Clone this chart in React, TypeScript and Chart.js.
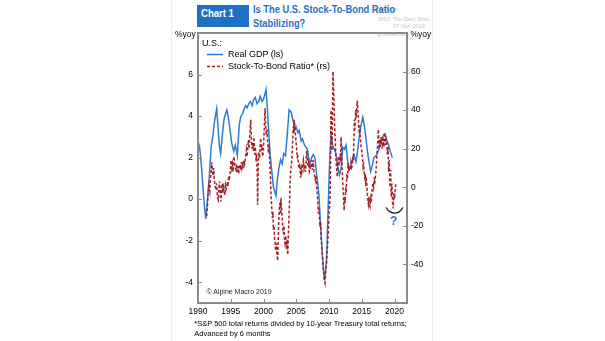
import React, { useEffect, useRef } from "react";
import { Chart, registerables } from "chart.js";

Chart.register(...registerables);

// ---------------- data ----------------
const gdpYears = [
  1990.0, 1990.25, 1990.5, 1990.75, 1991.0, 1991.18, 1991.5, 1991.75, 1992.0, 1992.25,
  1992.5, 1992.85, 1993.05, 1993.25, 1993.45, 1993.75, 1994.0, 1994.4, 1994.6, 1994.9,
  1995.15, 1995.45, 1995.7, 1996.0, 1996.3, 1996.55, 1996.8, 1997.0, 1997.25, 1997.5,
  1997.75, 1998.0, 1998.25, 1998.5, 1998.75, 1999.0, 1999.25, 1999.5, 1999.75, 2000.0,
  2000.38, 2000.6, 2000.8, 2001.0, 2001.25, 2001.5, 2001.9, 2002.1, 2002.35, 2002.6,
  2002.85, 2003.1, 2003.35, 2003.6, 2003.9, 2004.2, 2004.5, 2004.75, 2004.95, 2005.25,
  2005.45, 2005.75, 2005.95, 2006.25, 2006.5, 2006.75, 2007.0, 2007.35, 2007.6, 2007.85,
  2008.0, 2008.2, 2008.45, 2008.7, 2009.0, 2009.3, 2009.6, 2009.85, 2010.1, 2010.3,
  2010.55, 2010.8, 2011.05, 2011.3, 2011.6, 2011.85, 2012.1, 2012.35, 2012.6, 2012.95,
  2013.15, 2013.4, 2013.6, 2013.85, 2014.1, 2014.35, 2014.6, 2014.85, 2015.15, 2015.4,
  2015.65, 2015.9, 2016.1, 2016.35, 2016.6, 2016.85, 2017.1, 2017.35, 2017.6, 2017.85,
  2018.1, 2018.35, 2018.55, 2018.85, 2019.1, 2019.35, 2019.66
];
const gdpValues = [
  2.8, 2.5, 1.7, 0.6, -0.4, -0.95, 0.2, 1.2, 2.5, 3.0,
  3.7, 4.35, 3.5, 2.6, 2.2, 3.2, 3.9, 4.3, 4.0, 3.3,
  2.7, 2.3, 2.6, 2.1, 3.6, 4.0, 4.1, 4.3, 4.5, 4.4,
  4.6, 4.7, 4.5, 4.8, 4.9, 4.6, 4.7, 4.95, 4.7, 4.8,
  5.28, 4.3, 3.2, 2.2, 1.4, 0.6, 0.16, 0.9, 1.5, 1.9,
  1.7, 2.2, 2.1, 3.0, 4.3, 4.2, 3.8, 3.35, 3.5, 3.2,
  3.3, 2.8, 2.9, 2.6, 2.5, 2.35, 1.66, 2.0, 2.15, 2.0,
  1.5, 0.95, 0.2, -1.2, -2.8, -3.9, -3.0, -0.6, 1.9, 3.1,
  2.6, 2.4, 2.2, 1.6, 1.17, 1.5, 2.5, 2.4, 2.6, 1.5,
  1.5, 1.7, 1.9, 2.1, 1.8, 2.3, 3.0, 3.5, 3.95, 3.5,
  2.9, 2.2, 1.8, 1.33, 1.6, 2.0, 2.06, 2.2, 2.4, 2.7,
  2.9, 3.1, 3.15, 2.8, 2.6, 2.3, 2.0
];

const ratioYears = [
  1991.33, 1991.45, 1991.55, 1991.65, 1991.8, 1991.9, 1992.0, 1992.09, 1992.2, 1992.3,
  1992.4, 1992.49, 1992.6, 1992.75, 1992.85, 1992.95, 1993.1, 1993.2, 1993.3, 1993.4,
  1993.5, 1993.6, 1993.7, 1993.8, 1993.9, 1994.0, 1994.1, 1994.2, 1994.3, 1994.4,
  1994.5, 1994.6, 1994.7, 1994.8, 1994.9, 1995.04, 1995.15, 1995.25, 1995.35, 1995.5,
  1995.6, 1995.7, 1995.8, 1995.9, 1996.0, 1996.1, 1996.2, 1996.3, 1996.4, 1996.5,
  1996.6, 1996.7, 1996.8, 1996.9, 1997.0, 1997.1, 1997.2, 1997.3, 1997.4, 1997.5,
  1997.6, 1997.7, 1997.8, 1997.9, 1998.05, 1998.15, 1998.25, 1998.35, 1998.45, 1998.55,
  1998.65, 1998.75, 1998.85, 1998.96, 1999.05, 1999.1, 1999.2, 1999.3, 1999.4, 1999.5,
  1999.57, 1999.65, 1999.75, 1999.85, 1999.97, 2000.08, 2000.16, 2000.23, 2000.32, 2000.42,
  2000.52, 2000.64, 2000.75, 2000.85, 2000.95, 2001.05, 2001.15, 2001.25, 2001.35, 2001.45,
  2001.5, 2001.6, 2001.7, 2001.76, 2001.85, 2001.95, 2002.05, 2002.17, 2002.25, 2002.32,
  2002.4, 2002.5, 2002.6, 2002.67, 2002.77, 2002.87, 2002.95, 2003.02, 2003.12, 2003.2,
  2003.28, 2003.38, 2003.46, 2003.54, 2003.62, 2003.7, 2003.8, 2003.9, 2004.0, 2004.05,
  2004.15, 2004.3, 2004.4, 2004.47, 2004.55, 2004.62, 2004.7, 2004.8, 2004.9, 2005.0,
  2005.07, 2005.15, 2005.22, 2005.3, 2005.4, 2005.47, 2005.57, 2005.65, 2005.75, 2005.85,
  2005.95, 2006.08, 2006.18, 2006.28, 2006.38, 2006.48, 2006.6, 2006.7, 2006.8, 2006.9,
  2007.0, 2007.1, 2007.2, 2007.3, 2007.36, 2007.45, 2007.52, 2007.6, 2007.7, 2007.8,
  2007.9, 2008.0, 2008.1, 2008.2, 2008.3, 2008.37, 2008.47, 2008.55, 2008.63, 2008.72,
  2008.8, 2008.9, 2009.0, 2009.13, 2009.25, 2009.39, 2009.5, 2009.65, 2009.78, 2009.9,
  2010.02, 2010.15, 2010.22, 2010.3, 2010.38, 2010.46, 2010.53, 2010.6, 2010.68, 2010.76,
  2010.83, 2010.9, 2011.0, 2011.07, 2011.15, 2011.27, 2011.35, 2011.42, 2011.5, 2011.6,
  2011.68, 2011.76, 2011.83, 2011.9, 2012.0, 2012.1, 2012.2, 2012.3, 2012.38, 2012.45,
  2012.55, 2012.62, 2012.7, 2012.8, 2012.88, 2012.95, 2013.05, 2013.15, 2013.25, 2013.35,
  2013.47, 2013.57, 2013.63, 2013.7, 2013.78, 2013.86, 2013.95, 2014.07, 2014.15, 2014.25,
  2014.32, 2014.4, 2014.47, 2014.55, 2014.63, 2014.7, 2014.77, 2014.84, 2014.92, 2015.04,
  2015.12, 2015.2, 2015.28, 2015.36, 2015.44, 2015.52, 2015.6, 2015.68, 2015.76, 2015.84,
  2015.92, 2016.0, 2016.1, 2016.18, 2016.26, 2016.36, 2016.45, 2016.5, 2016.6, 2016.7,
  2016.8, 2016.9, 2017.0, 2017.1, 2017.18, 2017.28, 2017.37, 2017.45, 2017.53, 2017.6,
  2017.68, 2017.76, 2017.85, 2017.95, 2018.05, 2018.15, 2018.22, 2018.3, 2018.38, 2018.46,
  2018.55, 2018.62, 2018.7, 2018.8, 2018.9, 2019.0, 2019.1, 2019.2, 2019.3, 2019.4,
  2019.5, 2019.6, 2019.7, 2019.8, 2019.9, 2020.0, 2020.1, 2020.2
];
const ratioValues = [
  -15, -9, -3, 1, -2, 5, 8, 13, 9, 6,
  10, 4, 1, -1.5, 2, -5, -6.5, 0, 3, -2,
  -7.5, -1, 2, -3, 0, -2, -4, 1, -1, 0,
  3, 2, 6, 5, 7.5, 14, 10, 12, 8, 16,
  12, 10, 9, 12, 8, 11, 7, 10, 11.5, 9,
  13, 10, 12, 11, 14, 12, 14, 17, 19.5, 16,
  21, 24.5, 20, 27, 35, 24, 20, 23, 19, 26,
  17, 21, 15, 16, 6, -9, 11.5, 18, 15, 22,
  25.5, 19, 22, 16, 18, 28, 35, 41, 32, 27,
  30, 23, 18, 20, 14, 6, -4, -10, -16, -13,
  -22, -20, -27, -28, -33, -29, -35, -38, -26, -18,
  -12, -8, -14, -5.5, -12, -17, -21, -24, -20, -27,
  -29, -25, -30, -31, -27, -35, -24, -13.5, -5, 2,
  8, 14, 20, 26, 31.5, 28, 35, 30, 26.5, 22,
  19.5, 15, 17, 12.5, 10, 11, 9, 5, 10, 8,
  11, 14, 10, 12, 8, 12, 19, 14, 11, 13,
  8, 9, 12, 10, 14, 9, 12, 14, 8, 6,
  4, 6, 2, -3, -8, -13.5, -11, -17, -20.5, -18,
  -26, -31, -36, -43, -47, -49.5, -44, -38, -30, -22,
  -12, -6.5, 10, 40, 28, 19, 40, 60, 52, 43,
  34, 28, 20, 14, 10, 5.5, 12, 16, 11, 15,
  17.5, 13, 26, 20, 10, 2, -4, -12, -5, -8,
  0, -3, 7, 4, 9, 12.5, 8, 11, 9, 13,
  10.5, 12, 16, 14, 22, 35, 30, 40, 36, 42,
  45, 40, 37, 31, 28, 32, 26, 23, 20, 17.5,
  14, 11, 13, 8, 5.5, 7, 3, 5, 2, -3,
  -6, -8.5, -5, -9, -10, -6, -8, -5, -1, 2,
  0, 4, 3, 6, 9, 15, 19.5, 24, 30, 24,
  20, 25, 21, 26, 23, 20, 25, 24.5, 21, 27,
  26.5, 22, 25, 24, 17, 21, 8, 14, 0, 9,
  -5, 2, -8, -11, -3, -6, -1, 2
];

const xTickYears = [1990, 1995, 2000, 2005, 2010, 2015, 2020];
const leftTicks = [-4, -2, 0, 2, 4, 6];
const rightTicks = [-40, -20, 0, 20, 40, 60];

const annotationYear = 2020.0;
const annotationValue = -8.7;

// ---------------- styles ----------------
const BLUE_LINE = "#2f7dd1";
const RED_LINE = "#a51f25";
const TITLE_BLUE = "#1f6fc4";
const FRAME = "#8a8a8a";
const FONT = "'Liberation Sans', Arial, Helvetica, sans-serif";

const framePlugin = {
  id: "frameAndTicks",
  afterDraw(chart: any) {
    const { ctx, chartArea: a, scales } = chart;
    ctx.save();
    ctx.strokeStyle = FRAME;
    ctx.lineWidth = 2;
    ctx.strokeRect(a.left, a.top, a.right - a.left, a.bottom - a.top);
    ctx.lineWidth = 1;
    ctx.beginPath();
    xTickYears.forEach((v) => {
      const px = Math.round(scales.x.getPixelForValue(v)) + 0.5;
      ctx.moveTo(px, a.bottom);
      ctx.lineTo(px, a.bottom - 4);
    });
    leftTicks.forEach((v) => {
      const py = Math.round(scales.y.getPixelForValue(v)) + 0.5;
      ctx.moveTo(a.left, py);
      ctx.lineTo(a.left + 4, py);
    });
    rightTicks.forEach((v) => {
      const py = Math.round(scales.y1.getPixelForValue(v)) + 0.5;
      ctx.moveTo(a.right, py);
      ctx.lineTo(a.right - 4, py);
    });
    ctx.stroke();

    const cx = scales.x.getPixelForValue(annotationYear);
    const cy = scales.y1.getPixelForValue(annotationValue);
    ctx.strokeStyle = "#111";
    ctx.lineWidth = 1.3;
    ctx.beginPath();
    ctx.arc(cx, cy, 9, 0.12 * Math.PI, 0.88 * Math.PI);
    ctx.stroke();
    ctx.fillStyle = TITLE_BLUE;
    ctx.font = `bold 12px ${FONT}`;
    ctx.textAlign = "center";
    ctx.textBaseline = "middle";
    ctx.fillText("?", cx - 1, cy + 18);
    ctx.restore();
  },
};

const abs = (extra: React.CSSProperties): React.CSSProperties => ({
  position: "absolute",
  whiteSpace: "nowrap",
  fontFamily: FONT,
  lineHeight: 1,
  ...extra,
});

export default function App() {
  const canvasRef = useRef<HTMLCanvasElement | null>(null);

  useEffect(() => {
    if (!canvasRef.current) return;
    const gdpPoints = gdpYears.map((x, i) => ({ x, y: gdpValues[i] }));
    const ratioPoints = ratioYears.map((x, i) => ({ x, y: ratioValues[i] }));
    const tickFont = { family: FONT, size: 8.5 };

    const chart = new Chart(canvasRef.current, {
      type: "line",
      data: {
        datasets: [
          {
            label: "Stock-To-Bond Ratio* (rs)",
            data: ratioPoints,
            yAxisID: "y1",
            borderColor: RED_LINE,
            borderWidth: 1.5,
            borderDash: [3, 2],
            pointRadius: 0,
            tension: 0,
            fill: false,
          },
          {
            label: "Real GDP (ls)",
            data: gdpPoints,
            yAxisID: "y",
            borderColor: BLUE_LINE,
            borderWidth: 1.5,
            pointRadius: 0,
            tension: 0,
            fill: false,
          },
        ],
      },
      options: {
        animation: false,
        responsive: false,
        maintainAspectRatio: false,
        layout: { padding: { top: 33, left: 0, right: 0, bottom: 0 } },
        plugins: { legend: { display: false }, tooltip: { enabled: false } },
        scales: {
          x: {
            type: "linear",
            min: 1990,
            max: 2021.9,
            grid: { display: false, drawTicks: false },
            border: { display: false },
            ticks: {
              font: tickFont,
              color: "#000",
              padding: 4,
              maxRotation: 0,
              autoSkip: false,
              callback: (v: any) => String(v),
            },
            afterBuildTicks: (s: any) => {
              s.ticks = xTickYears.map((value) => ({ value }));
            },
            afterFit: (s: any) => {
              s.height = 38;
            },
          },
          y: {
            type: "linear",
            position: "left",
            min: -5,
            max: 8,
            grid: { display: false, drawTicks: false },
            border: { display: false },
            ticks: { font: tickFont, color: "#000", padding: 5 },
            afterBuildTicks: (s: any) => {
              s.ticks = leftTicks.map((value) => ({ value }));
            },
            afterFit: (s: any) => {
              s.width = 198;
            },
          },
          y1: {
            type: "linear",
            position: "right",
            min: -60,
            max: 80,
            grid: { display: false, drawTicks: false },
            border: { display: false },
            ticks: { font: tickFont, color: "#000", padding: 4 },
            afterBuildTicks: (s: any) => {
              s.ticks = rightTicks.map((value) => ({ value }));
            },
            afterFit: (s: any) => {
              s.width = 198;
            },
          },
        },
      },
      plugins: [framePlugin],
    } as any);
    return () => chart.destroy();
  }, []);

  return (
    <div
      style={{
        position: "fixed",
        left: 0,
        top: 0,
        width: 605,
        height: 341,
        background: "#fff",
        overflow: "hidden",
      }}
    >
      {/* faint card borders */}
      <div style={abs({ left: 171, top: 0, width: 1, height: 341, background: "#ededed" })} />
      <div style={abs({ left: 432, top: 0, width: 1, height: 341, background: "#ededed" })} />

      {/* watermark */}
      <div style={abs({ left: 373, top: 7, fontSize: 5.5, color: "#c4c4c4" })}>Posted on</div>
      <div style={abs({ left: 378, top: 16.5, fontSize: 5.5, color: "#c4c4c4" })}>WSJ: The Daily Shot</div>
      <div style={abs({ left: 393, top: 23.5, fontSize: 5.5, color: "#c4c4c4" })}>07-Nov-2019</div>
      <div style={abs({ left: 377, top: 31.5, fontSize: 5.5, color: "#c4c4c4" })}>@SoberLook</div>

      {/* header */}
      <div style={abs({ left: 197, top: 5, width: 52, height: 22, background: TITLE_BLUE })} />
      <div
        style={abs({
          left: 201,
          top: 7.7,
          fontSize: 11.5,
          fontWeight: "bold",
          color: "#fff",
          transform: "scaleX(0.83)",
          transformOrigin: "left top",
        })}
      >
        Chart 1
      </div>
      <div
        style={abs({
          left: 253,
          top: 3.6,
          fontSize: 11.5,
          fontWeight: "bold",
          color: TITLE_BLUE,
          transform: "scaleX(0.81)",
          transformOrigin: "left top",
        })}
      >
        Is The U.S. Stock-To-Bond Ratio
      </div>
      <div
        style={abs({
          left: 253,
          top: 18.4,
          fontSize: 11.5,
          fontWeight: "bold",
          color: TITLE_BLUE,
          transform: "scaleX(0.81)",
          transformOrigin: "left top",
        })}
      >
        Stabilizing?
      </div>

      <canvas
        ref={canvasRef}
        width={605}
        height={341}
        style={{ position: "absolute", left: 0, top: 0, width: 605, height: 341 }}
      />

      {/* axis unit labels */}
      <div style={abs({ left: 175, top: 30, fontSize: 8.5, color: "#000" })}>%yoy</div>
      <div style={abs({ left: 410.5, top: 30, fontSize: 8.5, color: "#000" })}>%yoy</div>

      {/* legend */}
      <div style={abs({ left: 202, top: 39, fontSize: 9, color: "#000" })}>U.S.:</div>
      <svg style={{ position: "absolute", left: 207, top: 51, width: 17, height: 7 }}>
        <line x1={0} y1={3.5} x2={16} y2={3.5} stroke={BLUE_LINE} strokeWidth={1.5} />
      </svg>
      <div style={abs({ left: 228, top: 49.5, fontSize: 9, color: "#000" })}>Real GDP (ls)</div>
      <svg style={{ position: "absolute", left: 207, top: 63, width: 17, height: 7 }}>
        <line x1={0} y1={3.5} x2={16} y2={3.5} stroke={RED_LINE} strokeWidth={1.5} strokeDasharray="3 2" />
      </svg>
      <div style={abs({ left: 228, top: 62, fontSize: 9, color: "#000" })}>Stock-To-Bond Ratio* (rs)</div>

      {/* source */}
      <div style={abs({ left: 206.5, top: 287.6, fontSize: 7, color: "#222" })}>© Alpine Macro 2019</div>

      {/* footnote */}
      <div style={abs({ left: 194.3, top: 320.3, fontSize: 7.5, color: "#000" })}>
        *S&amp;P 500 total returns divided by 10-year Treasury total returns;
      </div>
      <div style={abs({ left: 194.3, top: 329.6, fontSize: 7.5, color: "#000" })}>Advanced by 6 months</div>
    </div>
  );
}
